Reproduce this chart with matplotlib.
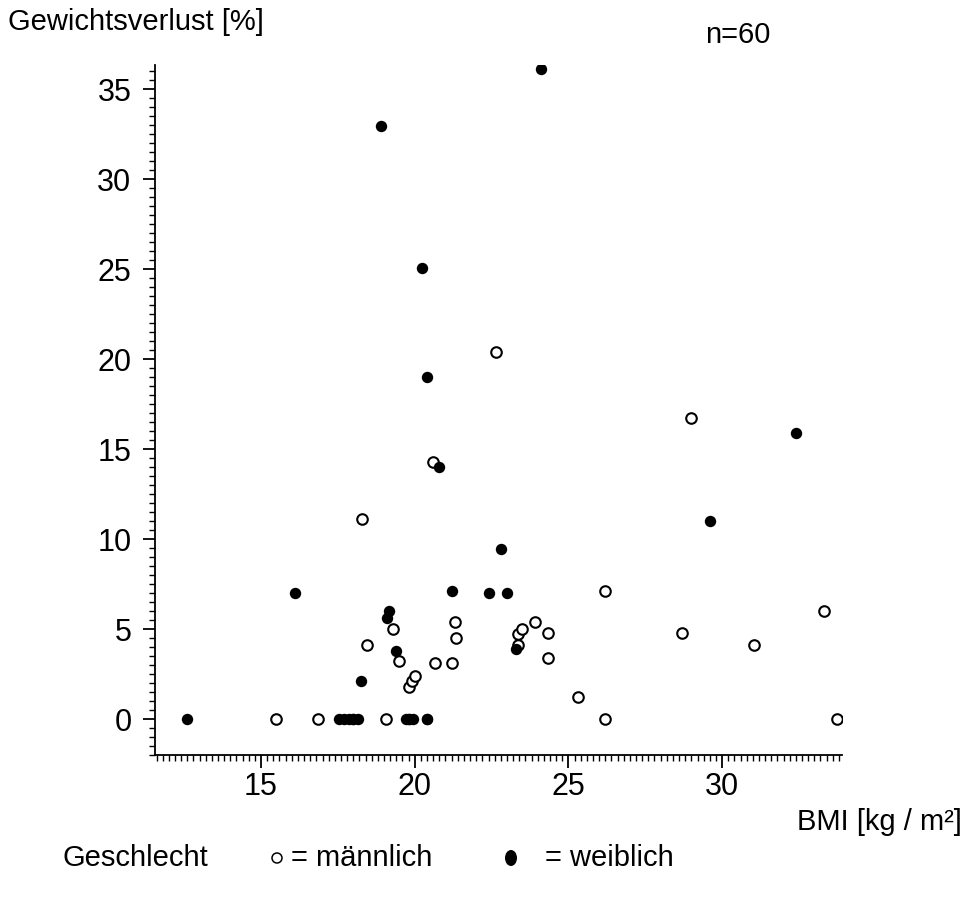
#!/usr/bin/env python3
import matplotlib
matplotlib.use('Agg')
import matplotlib.pyplot as plt
from matplotlib.patches import Ellipse
from matplotlib.ticker import MultipleLocator

plt.rcParams['font.family'] = ['Liberation Sans', 'DejaVu Sans']

# male (open circles): BMI, weight loss
bmi_m = [15.5, 16.85, 19.05, 26.2, 33.75, 25.3, 19.8, 19.9, 20.0, 19.5,
         20.65, 21.2, 24.35, 18.45, 23.35, 31.05, 21.35, 23.35, 24.35, 28.7,
         19.3, 23.5, 21.3, 23.9, 33.3, 26.2, 18.3, 20.6, 29.0, 22.65]
loss_m = [0, 0, 0, 0, 0, 1.2, 1.8, 2.1, 2.4, 3.2,
          3.1, 3.1, 3.4, 4.1, 4.1, 4.1, 4.5, 4.7, 4.8, 4.8,
          5.0, 5.0, 5.4, 5.4, 6.0, 7.1, 11.1, 14.3, 16.75, 20.4]

# female (filled circles)
bmi_w = [12.6, 17.55, 17.7, 17.85, 18.0, 18.0, 18.15, 19.7, 19.8, 19.8,
         19.95, 20.4, 20.4, 18.25, 19.4, 23.3, 19.1, 19.15, 16.1, 21.2,
         22.4, 23.0, 22.8, 29.6, 20.8, 32.4, 20.4, 20.25, 18.9, 24.1]
loss_w = [0, 0, 0, 0, 0, 0, 0, 0, 0, 0,
          0, 0, 0, 2.1, 3.8, 3.9, 5.6, 6.0, 7.0, 7.1,
          7.0, 7.0, 9.45, 11.0, 14.0, 15.9, 19.0, 25.05, 32.95, 36.1]

x_ticks = [15, 20, 25, 30]
y_ticks = [0, 5, 10, 15, 20, 25, 30, 35]

W, H = 966, 899
fig = plt.figure(figsize=(W / 100, H / 100), dpi=100)
ax = fig.add_axes([155 / W, 1 - 755 / H, (842 - 155) / W, (755 - 65) / H])

ax.plot(bmi_m, loss_m, 'o', ms=7.6, mfc='white', mec='black', mew=1.5, ls='none', zorder=3)
ax.plot(bmi_w, loss_w, 'o', ms=8.2, mfc='black', mec='black', mew=0, ls='none', zorder=3)

ax.set_xlim(11.55, 33.9)
ax.set_ylim(-2, 36.35)
ax.set_xticks(x_ticks)
ax.set_yticks(y_ticks)
ax.xaxis.set_minor_locator(MultipleLocator(0.2))
ax.yaxis.set_minor_locator(MultipleLocator(0.5))
for s in ['top', 'right']:
    ax.spines[s].set_visible(False)
for s in ['left', 'bottom']:
    ax.spines[s].set_linewidth(1.3)
ax.tick_params(which='major', direction='out', length=9, width=1.3, labelsize=22, pad=3)
ax.tick_params(which='minor', direction='out', length=4.5, width=1.0)
ax.tick_params(axis='y', which='major', pad=8)

fs = 21
fig.text(8 / W, 1 - 22 / H, 'Gewichtsverlust [%]', fontsize=fs, va='center', ha='left')
fig.text(705 / W, 1 - 35 / H, 'n=60', fontsize=fs, va='center', ha='left')
fig.text(962 / W, 1 - 822 / H, 'BMI [kg / m²]', fontsize=fs, va='center', ha='right')
fig.text(62 / W, 1 - 858 / H, 'Geschlecht', fontsize=fs, va='center', ha='left')
fig.text(291 / W, 1 - 858 / H, '= männlich', fontsize=fs, va='center', ha='left')
fig.text(545 / W, 1 - 858 / H, '= weiblich', fontsize=fs, va='center', ha='left')

# legend symbols in pixel coordinates
lax = fig.add_axes([0, 0, 1, 1])
lax.set_xlim(0, W)
lax.set_ylim(H, 0)
lax.axis('off')
lax.add_patch(Ellipse((277, 858), 10, 10, fc='white', ec='black', lw=1.1))
lax.add_patch(Ellipse((511, 858), 12, 16, fc='black', ec='black', lw=0))

fig.savefig('out.png', dpi=100)
